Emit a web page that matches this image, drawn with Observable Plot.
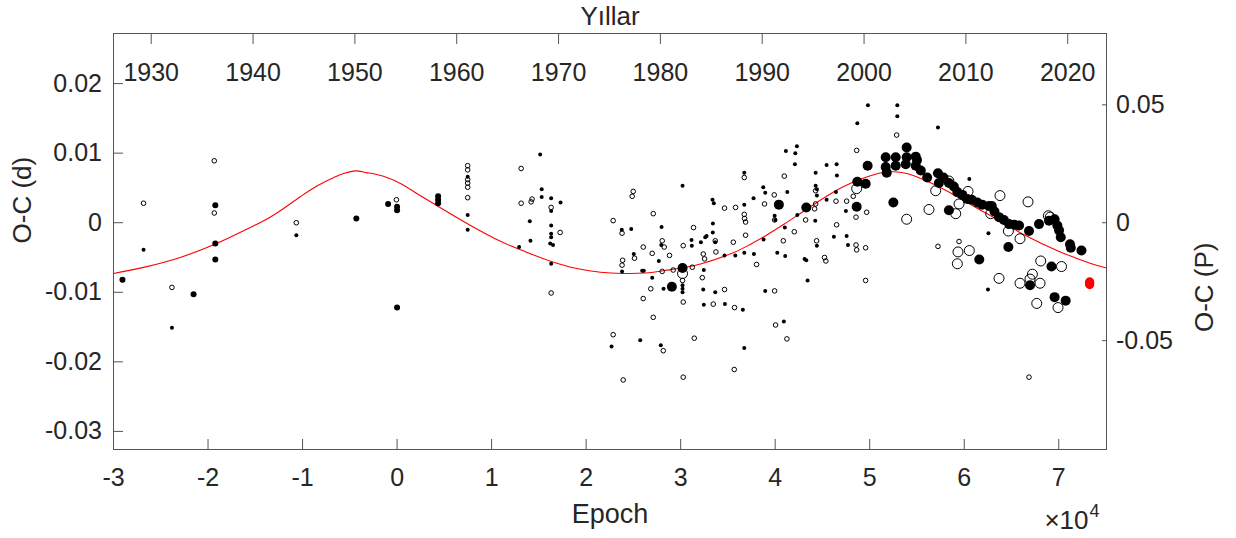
<!DOCTYPE html>
<html><head><meta charset="utf-8">
<script src="https://cdn.jsdelivr.net/npm/d3@7"></script>
<script src="https://cdn.jsdelivr.net/npm/@observablehq/plot@0.6"></script>
<style>body{margin:0;background:#fff;}</style>
</head><body><div id="chart"></div>
<script>
// [epoch, O-C (d)]
const smallFilled = [[-26820,-0.0039],[-23820,-0.0151],[-10660,-0.0018],
[7470,0.0066],[7470,0.0011],[7470,-0.0010],
[15140,0.0098],[15300,0.0048],[15300,0.0037],[14040,0.0002],[14110,-0.0026],[12910,-0.0035],
[16300,0.0035],[16300,0.0017],[16300,-0.0004],[16300,-0.0016],[16300,-0.0021],[16200,-0.0030],[16500,-0.0032],[16300,-0.0059],[17290,0.0029],
[36730,0.0072],[30200,0.0053],[33370,0.0033],[33510,0.0028],[36730,0.0026],[37710,0.0035],
[23770,-0.0010],[24770,-0.0009],[27980,-0.0006],[33410,-0.0001],[33400,-0.0014],[32600,-0.0021],[32740,-0.0019],[32140,-0.0028],[31150,-0.0025],[31180,-0.0033],[33660,-0.0028],[27950,-0.0032],[25040,-0.0045],[27690,-0.0055],[23800,-0.0070],[34640,-0.0047],[35780,-0.0047],[36730,-0.0043],[37750,-0.0045],[25930,-0.0069],[26100,-0.0069],[32450,-0.0068],[26990,-0.0079],[28190,-0.0095],[32390,-0.0096],[33660,-0.0100],[32450,-0.0118],[34680,-0.0117],[36580,-0.0125],[22690,-0.0178],[25720,-0.0169],[27900,-0.0176],[36730,-0.0180],
[30200,-0.0090],[30200,-0.0095],[30200,-0.0100],
[43110,-0.0052],[43290,-0.0054],[43430,-0.0083],[38950,-0.0098],[40920,-0.0142],
[49810,0.0169],[52920,0.0169],[52920,0.0153],[48690,0.0143],[41130,0.0103],[42300,0.0110],[42130,0.0100],[42090,0.0084],[45440,0.0083],[46500,0.0084],[44280,0.0072],[46530,0.0068],[38740,0.0051],[38950,0.0043],[44280,0.0053],[44410,0.0048],[41280,0.0044],[46430,0.0044],[44410,0.0039],[45440,0.0033],[47480,0.0017],[39940,0.0010],[40010,0.0004],[42340,0.0011],[44240,0.0003],[41020,-0.0007],[38770,-0.0024],[46210,-0.0020],[47560,-0.0019],[44410,-0.0033],[47700,-0.0032],[40220,-0.0043],[41060,-0.0048],
[57220,0.0137],[60540,0.0063],[62560,-0.0015],[62510,-0.0096]];

const mediumFilled = [[-29050,-0.0082],[-19230,0.0025],[-19230,-0.0030],[-19230,-0.0053],[-21530,-0.0103],[-4310,0.0006],[-950,0.0027],[0,0.0023],[0,0.0018],[0,-0.0122],[4340,0.0038],[4340,0.0033],[4340,0.0028]];

const smallOpen = [[-26820,0.0028],[-19340,0.0089],[-19340,0.0014],[-10660,0.0000],[-70,0.0033],[-23820,-0.0093],
[7470,0.0082],[7470,0.0076],[7470,0.0062],[7470,0.0057],[7470,0.0051],[7470,0.0036],
[13125,0.0078],[13125,0.0028],[14180,0.0030],[14280,0.0034],[16300,0.0022],[16300,-0.0101],[17250,-0.0014],
[36730,0.0065],[24980,0.0045],[24870,0.0038],[34640,0.0021],[35810,0.0022],[27100,0.0013],[36730,0.0012],[36760,0.0006],[36870,0.0001],[22860,0.0003],[23800,-0.0015],[31360,-0.0007],[33660,-0.0026],[33730,-0.0042],[35570,-0.0028],[36870,-0.0018],[28050,-0.0026],[28260,-0.0035],[26040,-0.0035],[25120,-0.0051],[26990,-0.0044],[28820,-0.0047],[30270,-0.0033],[23860,-0.0054],[23800,-0.0061],[32390,-0.0045],[32530,-0.0052],[38030,-0.0060],[28050,-0.0070],[29210,-0.0068],[31230,-0.0064],[32290,-0.0079],[26840,-0.0095],[34640,-0.0096],[26040,-0.0109],[33450,-0.0117],[35700,-0.0122],[27100,-0.0136],[22860,-0.0161],[28160,-0.0184],[31440,-0.0166],[23920,-0.0226],[30270,-0.0222],[35670,-0.0211],[30200,-0.0083],[30270,-0.0114],
[39940,-0.0098],[40040,-0.0147],[41240,-0.0167],
[52850,0.0126],[48620,0.0104],[40960,0.0067],[44280,0.0046],[39900,0.0040],[48260,0.0038],[38870,0.0027],[46430,0.0031],[47560,0.0031],[44280,0.0027],[44170,0.0020],[49680,0.0015],[39940,0.0004],[48550,0.0008],[43220,0.0004],[46500,-0.0003],[42020,-0.0013],[40860,-0.0026],[44380,-0.0026],[48550,-0.0032],[48620,-0.0039],[49570,-0.0036],[45220,-0.0050],[45360,-0.0055],[49570,-0.0083],
[57220,-0.0034],[59450,-0.0027],[66850,-0.0222]];

const bigFilled = [[30200,-0.0065],[29070,-0.0092],[40390,0.0026],[43290,0.0022],[48620,0.0023],[49780,0.0082],[48690,0.0059],[49570,0.0056],[52500,0.0029],
[51690,0.0094],[52750,0.0094],[53910,0.0108],[54870,0.0095],[51690,0.0080],[52750,0.0082],[53810,0.0084],[54870,0.0082],[55400,0.0075],[51800,0.0072],[53910,0.0094],[55000,0.0090],
[56080,0.0065],[57220,0.0071],[57320,0.0057],[57800,0.0065],[58380,0.0057],[58900,0.0052],[59270,0.0044],[59800,0.0040],[60330,0.0034],[60800,0.0033],[61390,0.0029],[61900,0.0026],[62620,0.0024],[62910,0.0024],[63200,0.0016],[63680,0.0008],[64200,0.0004],[64740,-0.0002],[65300,-0.0003],[65800,-0.0004],[66850,-0.0012],[67910,-0.0002],[68970,0.0003],[69560,0.0005],[69850,-0.0004],[70030,-0.0011],[70210,-0.0021],[71190,-0.0031],[71270,-0.0036],[72400,-0.0040],
[58380,0.0018],[61590,-0.0053],[64670,-0.0035],[66960,-0.0090],[69230,-0.0063],[69560,-0.0107],[70730,-0.0112]];

const bigOpen = [[53910,0.0005],[48620,0.0049],[30200,-0.0073],[58380,0.0060],[56980,0.0046],[60400,0.0045],[59450,0.0027],[59100,0.0013],[56270,0.0019],[63780,0.0039],[62800,0.0013],[64670,-0.0012],[59340,-0.0042],[60540,-0.0040],[59270,-0.0059],[66750,0.0030],[68900,0.0010],[69100,0.0008],[65900,-0.0023],[68090,-0.0055],[70290,-0.0063],[63680,-0.0080],[65900,-0.0087],[66960,-0.0081],[67210,-0.0074],[68020,-0.0087],[67670,-0.0116],[69920,-0.0122]];

const redPoints = [[73270,-0.0085],[73270,-0.0086],[73270,-0.0087],[73270,-0.0088],[73270,-0.0089]];

// model curve
const modelCurve = [[-30000,-0.00729],[-26820,-0.00642],[-22940,-0.00499],[-19230,-0.00306],[-15530,-0.00068],[-13760,0.00053],[-12040,0.00201],[-10240,0.00374],[-8440,0.00532],[-6740,0.00647],[-5600,0.0071],[-4410,0.00745],[-3200,0.0072],[-1450,0.00668],[350,0.00565],[2470,0.00388],[4580,0.00216],[7440,-0.00014],[10930,-0.00266],[13580,-0.00417],[16230,-0.00553],[18880,-0.00654],[21520,-0.00711],[23850,-0.00729],[26280,-0.00723],[28220,-0.0069],[32100,-0.00593],[35630,-0.00427],[37400,-0.00309],[39170,-0.00172],[40920,-0.00022],[42690,0.00137],[44460,0.00295],[46210,0.00445],[47980,0.00568],[49750,0.00661],[51160,0.00714],[52530,0.00733],[53800,0.00711],[55070,0.00654],[56450,0.00575],[58220,0.00453],[59980,0.00316],[61740,0.0018],[62800,0.00101],[66330,-0.00172],[69860,-0.00402],[73390,-0.00585],[75050,-0.00651]];

const xTicks = [-30000,-20000,-10000,0,10000,20000,30000,40000,50000,60000,70000];
const yTicks = [-0.03,-0.02,-0.01,0,0.01,0.02];
const yRightTicksP = [-0.05,0,0.05];
const yearTicks = [1930,1940,1950,1960,1970,1980,1990,2000,2010,2020];
const period = 0.339;          // days
const epochAt1930 = -26010;
const epochsPerYear = 1077.3;

const pts = a => a.map(([e, oc]) => ({e, oc}));
const yearEpoch = y => epochAt1930 + (y - 1930) * epochsPerYear;
const ink = "#262626", axisCol = "#555";

const chart = Plot.plot({
  width: 1236, height: 538,
  marginLeft: 113, marginRight: 130, marginTop: 33, marginBottom: 89,
  style: {fontFamily: "'Liberation Sans', Arial, sans-serif", fontSize: "25px", color: ink, background: "#fff"},
  x: {domain: [-30000, 75050], label: null},
  y: {domain: [-0.0326, 0.0272], label: null},
  marks: [
    Plot.axisX({anchor: "bottom", ticks: xTicks, tickSize: -10, tickPadding: 29, tickFormat: d => String(d / 10000), stroke: axisCol, label: null}),
    Plot.axisX({anchor: "top", ticks: yearTicks.map(yearEpoch), tickSize: -10, tickFormat: () => "", stroke: axisCol, label: null}),
    Plot.text(yearTicks, {x: yearEpoch, text: d => String(d), frameAnchor: "top", dy: 39, lineAnchor: "middle", fill: ink}),
    Plot.axisY({anchor: "left", ticks: yTicks, tickSize: -10, tickPadding: 21.5, tickFormat: d => String(Math.round(d * 100) / 100), stroke: axisCol, label: null}),
    Plot.axisY({anchor: "right", ticks: yRightTicksP.map(p => p * period), tickSize: -5, tickPadding: 14.5, tickFormat: d => String(Math.round(d / period * 100) / 100), stroke: axisCol, label: null}),
    Plot.frame({stroke: axisCol}),
    Plot.line(pts(modelCurve), {x: "e", y: "oc", stroke: "#ff0000", strokeWidth: 1.1, curve: "catmull-rom"}),
    Plot.dot(pts(smallOpen), {x: "e", y: "oc", r: 2.3, stroke: "#000", strokeWidth: 1, fill: "none"}),
    Plot.dot(pts(bigOpen), {x: "e", y: "oc", r: 5, stroke: "#000", strokeWidth: 1, fill: "none"}),
    Plot.dot(pts(smallFilled), {x: "e", y: "oc", r: 2, fill: "#000", stroke: "none"}),
    Plot.dot(pts(mediumFilled), {x: "e", y: "oc", r: 3, fill: "#000", stroke: "none"}),
    Plot.dot(pts(bigFilled), {x: "e", y: "oc", r: 5, fill: "#000", stroke: "none"}),
    Plot.dot(pts(redPoints), {x: "e", y: "oc", r: 4.5, fill: "#ff0000", stroke: "none"}),
    Plot.text(["Yıllar"], {frameAnchor: "top", dy: -17, lineAnchor: "middle", fontSize: 26, fill: ink}),
    Plot.text(["Epoch"], {frameAnchor: "bottom", dy: 65, lineAnchor: "middle", fontSize: 27, fill: ink}),
    Plot.text(["O-C (d)"], {frameAnchor: "left", dx: -91, dy: 2, rotate: -90, lineAnchor: "middle", fontSize: 26, fill: ink}),
    Plot.text(["O-C (P)"], {frameAnchor: "right", dx: 98, dy: 1, rotate: -90, lineAnchor: "middle", fontSize: 26, fill: ink}),
    Plot.text(["×10"], {frameAnchor: "bottom-right", dx: -18, dy: 71, textAnchor: "end", lineAnchor: "middle", fontSize: 26, fill: ink}),
    Plot.text(["4"], {frameAnchor: "bottom-right", dx: -17, dy: 62, textAnchor: "start", lineAnchor: "middle", fontSize: 18, fill: ink})
  ]
});
document.getElementById("chart").append(chart);
</script>
</body></html>
